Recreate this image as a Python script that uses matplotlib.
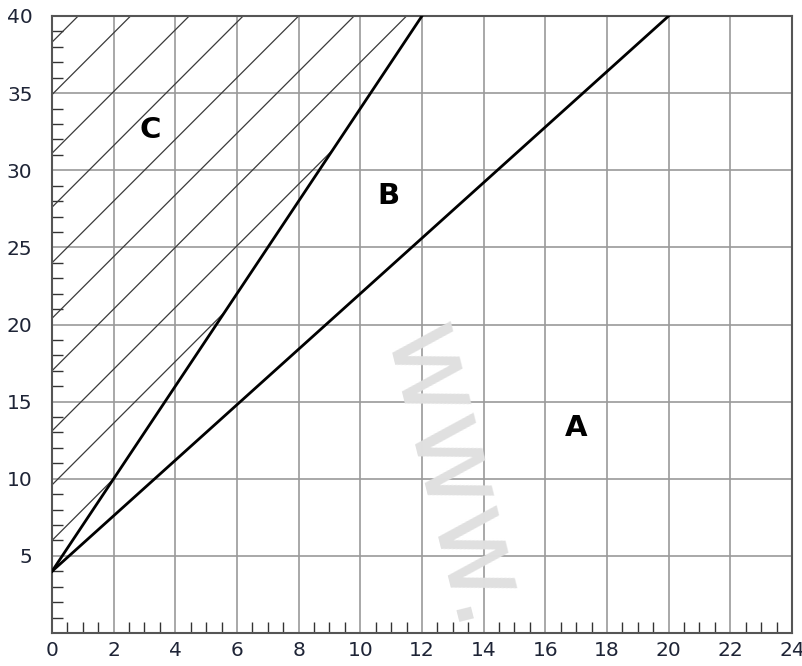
import numpy as np
import matplotlib
matplotlib.use("Agg")
import matplotlib.pyplot as plt

# lines A and B share the same start point
x0, y0 = 0, 4
line_a_end = (20, 40)
line_b_end = (12, 40)

# hatch lines of region C: slope and left-axis intercepts
hatch_slope = 2.0
hatch_intercepts = [6.0, 9.6, 13.1, 17.0, 20.4, 24.0, 27.6, 31.1, 34.9, 38.3]

region_labels = ["A", "B", "C"]
region_x = [17.0, 10.9, 3.2]
region_y = [13.3, 28.3, 32.6]

xticks = list(range(0, 25, 2))
yticks = [5, 10, 15, 20, 25, 30, 35, 40]

fig = plt.figure(figsize=(8.02, 6.66), dpi=100)
ax = fig.add_axes([0.0648, 0.0495, 0.9227, 0.9265])
ax.set_xlim(0, 24)
ax.set_ylim(0, 40)

# grid
for xv in xticks[1:-1]:
    ax.axvline(xv, color="#9a9a9a", lw=1.2, zorder=1)
for yv in yticks[:-1]:
    ax.axhline(yv, color="#9a9a9a", lw=1.2, zorder=1)

# watermark
ax.text(0.54, 0.25, "www.", transform=ax.transAxes, rotation=-76,
        fontsize=84, color="#e0e0e0", ha="center", va="center", zorder=1.5,
        family="DejaVu Sans")

# hatch of region C, clipped at line B and top edge
slope_b = (line_b_end[1] - y0) / (line_b_end[0] - x0)
for c in hatch_intercepts:
    xb = (c - y0) / (slope_b - hatch_slope)
    xt = (40 - c) / hatch_slope
    xe = min(xb, xt)
    ax.plot([0, xe], [c, c + hatch_slope * xe], color="#3a3a3a", lw=0.9, zorder=2)

ax.plot([x0, line_a_end[0]], [y0, line_a_end[1]], color="black", lw=2.0, zorder=3)
ax.plot([x0, line_b_end[0]], [y0, line_b_end[1]], color="black", lw=2.0, zorder=3)

for lab, lx, ly in zip(region_labels, region_x, region_y):
    ax.text(lx, ly, lab, fontsize=21, fontweight="bold", ha="center",
            va="center", color="black", zorder=4)

ax.set_xticks(xticks)
ax.set_yticks(yticks)
ax.set_xticks(np.arange(0.5, 24, 0.5)[np.arange(0.5, 24, 0.5) % 2 != 0], minor=True)
ax.set_yticks([v for v in range(1, 40) if v % 5 != 0], minor=True)
ax.tick_params(which="major", length=0, labelsize=14.5, labelcolor="#1e2436")
ax.tick_params(axis="x", which="major", pad=6)
ax.tick_params(axis="y", which="major", pad=14)
ax.tick_params(which="minor", direction="in", length=8, width=1.0, color="#333333")

for s in ax.spines.values():
    s.set_color("#555555")
    s.set_linewidth(1.5)

fig.savefig("out.png", dpi=100)
